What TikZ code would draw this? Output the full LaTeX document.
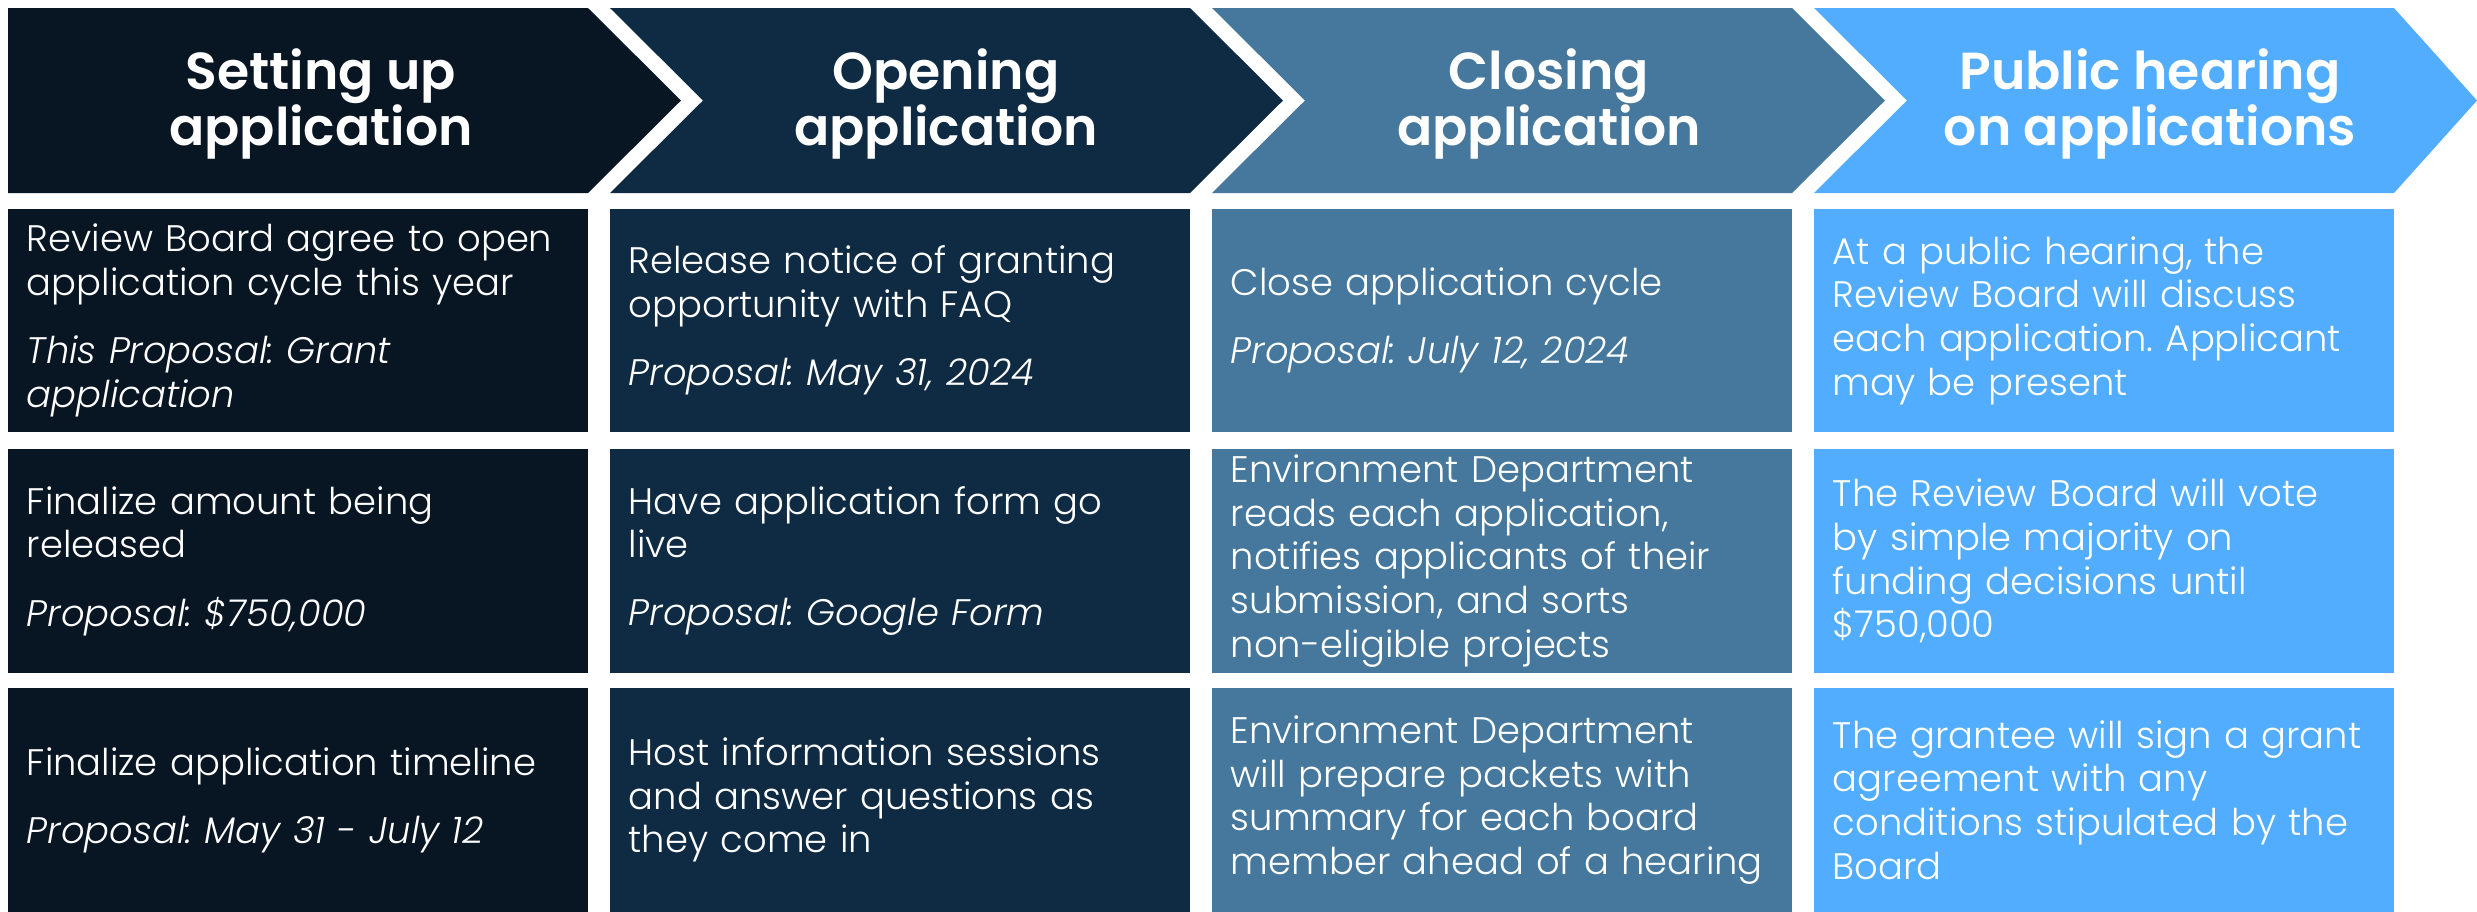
\documentclass[tikz,border=0pt]{standalone}
\usepackage{fontspec}
\setmainfont{Poppins Light}[ItalicFont={Poppins Light Italic}]
\newfontfamily\headfont{Poppins SemiBold}
\usepackage{tikz}
\frenchspacing

\definecolor{stepA}{HTML}{081624}
\definecolor{stepB}{HTML}{0F2A43}
\definecolor{stepC}{HTML}{45789C}
\definecolor{stepD}{HTML}{52ADFE}

\begin{document}
\begin{tikzpicture}[x=0.01cm,y=-0.01cm]
\tikzstyle{every node}+=[inner sep=0pt, text=white]
\tikzstyle{cell}=[inner xsep=0.19cm, inner ysep=0pt, text width=5.42cm, minimum height=2.23cm, align=left, font=\fontsize{10.5}{12.4}\selectfont]
\tikzstyle{head}=[align=center, font=\headfont\fontsize{14.8}{16}\selectfont]
\useasboundingbox (0,0) rectangle (2477,911);

% header arrows
\fill [stepA] (8,8) -- (588,8) -- (681,100.5) -- (588,193) -- (8,193) -- cycle;
\fill [stepB] (610,8) -- (1190,8) -- (1283,100.5) -- (1190,193) -- (610,193) -- (703,100.5) -- cycle;
\fill [stepC] (1212,8) -- (1792,8) -- (1885,100.5) -- (1792,193) -- (1212,193) -- (1305,100.5) -- cycle;
\fill [stepD] (1814,8) -- (2394,8) -- (2477,100.5) -- (2394,193) -- (1814,193) -- (1907,100.5) -- cycle;
\node [head] (setup) at (321,104) {Setting up\\application};
\node [head] (opening) at (946,104) {Opening\\application};
\node [head] (closing) at (1549,104) {Closing\\application};
\node [head] (hearing) at (2150,104) {Public hearing\\on applications};

% row 1
\node [cell, fill=stepA] (setupa) at (298,320.5) {Review Board agree to open\\application cycle this year\\[7pt]\textit{This Proposal: Grant}\\\textit{application}};
\node [cell, fill=stepB] (openinga) at (900,320.5) {Release notice of granting\\opportunity with FAQ\\[7pt]\textit{Proposal: May 31, 2024}};
\node [cell, fill=stepC] (closinga) at (1502,320.5) {Close application cycle\\[7pt]\textit{Proposal: July 12, 2024}};
\node [cell, fill=stepD] (hearinga) at (2104,320.5) {At a public hearing, the\\Review Board will discuss\\each application. Applicant\\may be present};

% row 2
\node [cell, fill=stepA] (setupb) at (298,561) {Finalize amount being\\released\\[7pt]\textit{Proposal: \$750,000}};
\node [cell, fill=stepB] (openingb) at (900,561) {Have application form go\\live\\[7pt]\textit{Proposal: Google Form}};
\node [cell, fill=stepC] (closingb) at (1502,561) {Environment Department\\reads each application,\\notifies applicants of their\\submission, and sorts\\non-eligible projects};
\node [cell, fill=stepD] (hearingb) at (2104,561) {The Review Board will vote\\by simple majority on\\funding decisions until\\\$750,000};

% row 3
\node [cell, fill=stepA] (setupc) at (298,800) {Finalize application timeline\\[7pt]\textit{Proposal: May 31 - July 12}};
\node [cell, fill=stepB] (openingc) at (900,800) {Host information sessions\\and answer questions as\\they come in};
\node [cell, fill=stepC] (closingc) at (1502,800) {Environment Department\\will prepare packets with\\summary for each board\\member ahead of a hearing};
\node [cell, fill=stepD] (hearingc) at (2104,800) {The grantee will sign a grant\\agreement with any\\conditions stipulated by the\\Board};

\end{tikzpicture}
\end{document}
